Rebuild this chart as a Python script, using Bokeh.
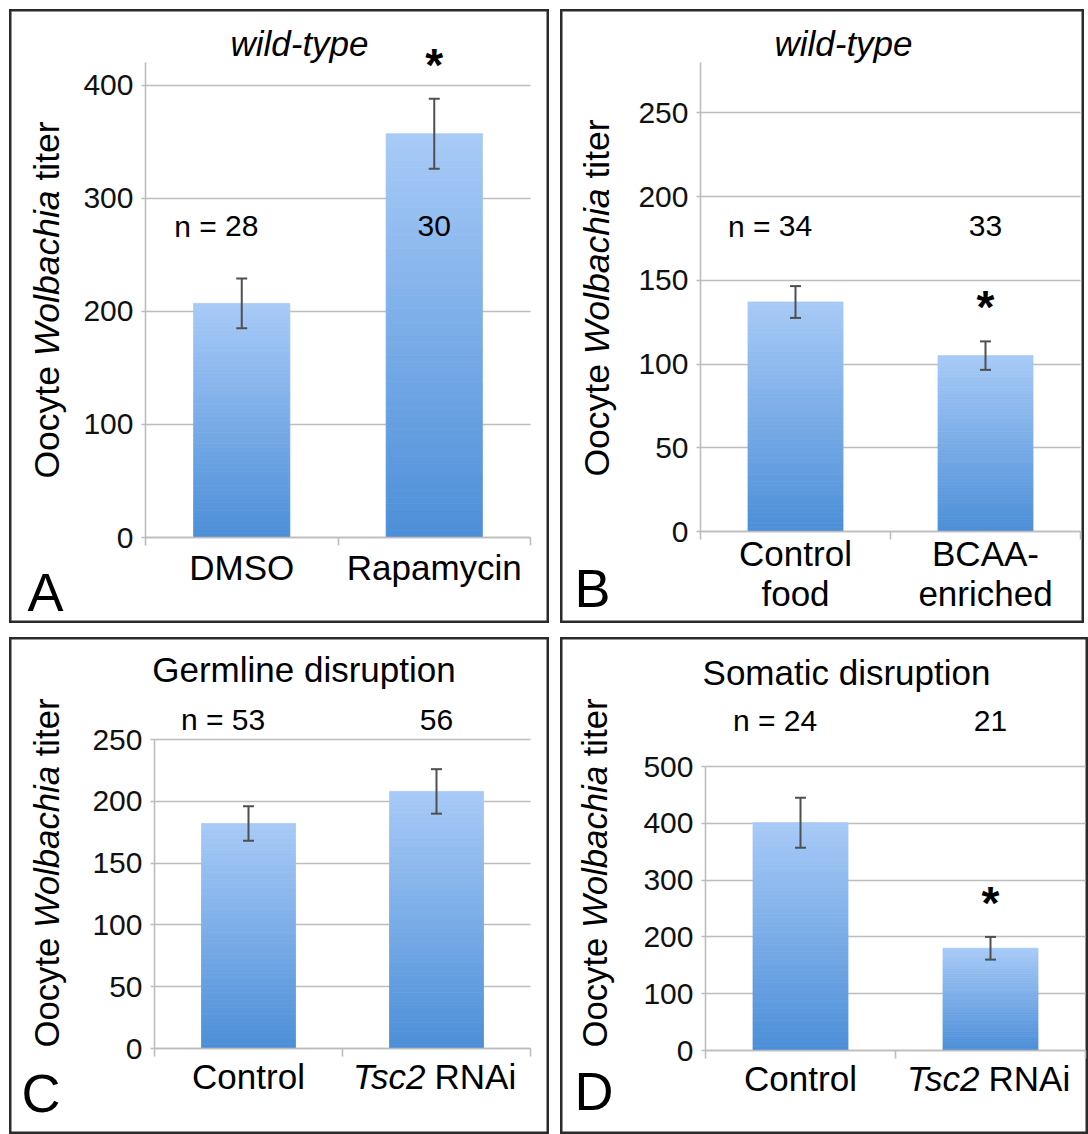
import numpy as np
from bokeh.plotting import figure
from bokeh.models import (Range1d, FixedTicker, Label, Whisker, ColumnDataSource, TeeHead,
                          LinearAxis, Grid)
from bokeh.layouts import row, column
from bokeh.embed import file_html
from bokeh.resources import INLINE

# ---------------- data ----------------
a_title = "wild-type"
a_categories = ["DMSO", "Rapamycin"]
a_means = [207, 357]
a_errors = [22, 31]
a_n = [28, 30]
a_significant = [False, True]
a_yticks = [0, 100, 200, 300, 400]

b_title = "wild-type"
b_categories = ["Control food", "BCAA-enriched"]
b_means = [137, 105]
b_errors = [9.5, 8.5]
b_n = [34, 33]
b_significant = [False, True]
b_yticks = [0, 50, 100, 150, 200, 250]

c_title = "Germline disruption"
c_categories = ["Control", "Tsc2 RNAi"]
c_means = [182, 208]
c_errors = [14, 18]
c_n = [53, 56]
c_significant = [False, False]
c_yticks = [0, 50, 100, 150, 200, 250]

d_title = "Somatic disruption"
d_categories = ["Control", "Tsc2 RNAi"]
d_means = [401, 180]
d_errors = [44, 20]
d_n = [24, 21]
d_significant = [False, True]
d_yticks = [0, 100, 200, 300, 400, 500]

y_label_words = ["Oocyte", "Wolbachia", "titer"]
italic_words = {"wild-type", "Wolbachia", "Tsc2"}
line_breaks = {"Control food": ["Control", "food"], "BCAA-enriched": ["BCAA-", "enriched"]}

# ---------------- styling ----------------
FONT = "Liberation Sans"
GRID = "#bdbdbd"
ERR = "#4f4f4f"
BAR_BOTTOM = (76, 143, 216)
BAR_TOP = (168, 202, 247)
BASE_FIX = 0.38   # em shift so that the anchor is the alphabetic baseline

W1000 = {" ": 278, "-": 333, "*": 389, "=": 584, "A": 667, "B": 667, "C": 722, "D": 722,
         "G": 778, "M": 833, "N": 722, "O": 778, "R": 722, "S": 667, "T": 611, "W": 944,
         "a": 556, "b": 556, "c": 500, "d": 556, "e": 556, "f": 278, "h": 556, "i": 222,
         "l": 222, "m": 833, "n": 556, "o": 556, "p": 556, "r": 333, "s": 500, "t": 278,
         "u": 556, "y": 500}


def text_w(s, size):
    return sum(W1000.get(ch, 556) for ch in s) / 1000.0 * size


# pixel layout of each panel (canvas coordinates, origin top-left)
spec_a = dict(W=540, H=614, L=136, R=19, T=53, B=86, y_end=420, title_xy=(290, 47),
              ylab=(51, 469, 35.5), cat_base=571, n_base=228, letter="A", letter_xy=(18, 603))
spec_b = dict(W=524, H=614, L=140, R=4, T=53, B=92, y_end=280, title_xy=(283, 47),
              ylab=(50, 467, 35.5), cat_base=557, n_base=228, letter="B", letter_xy=(14, 599))
spec_c = dict(W=540, H=497, L=145, R=19, T=102, B=86, y_end=250, title_xy=(294.5, 45),
              ylab=(51, 410, 34.7), cat_base=452, n_base=93.5, letter="C", letter_xy=(12, 476))
spec_d = dict(W=528, H=497, L=145, R=3, T=129, B=84, y_end=500, title_xy=(286, 48),
              ylab=(48, 410, 34.7), cat_base=454, n_base=94.5, letter="D", letter_xy=(14, 474))


def lbl(p, spec, cx, cy, text, size, style="normal", align="left", rotated=False):
    if rotated:
        x, y, angle = cx - BASE_FIX * size, spec["H"] - cy, np.pi / 2
    else:
        x, y, angle = cx, spec["H"] - cy + BASE_FIX * size, 0.0
    p.add_layout(Label(x=x, y=y, x_units="screen", y_units="screen", text=text,
                       text_font=FONT, text_font_size=f"{size}px", text_font_style=style,
                       text_align=align, text_baseline="alphabetic", angle=angle,
                       text_color="#000000"))


def make_panel(title, cats, means, errs, ns, sig, yticks, spec):
    W, H, L, R, T, B = (spec[k] for k in ("W", "H", "L", "R", "T", "B"))
    n = len(cats)
    y_end = spec["y_end"]
    kx = (W - L - R) / n          # px per category
    ky = (H - T - B) / y_end      # px per unit
    p = figure(width=W, height=H,
               x_range=Range1d(-L / kx, n + R / kx),
               y_range=Range1d(-B / ky, y_end + T / ky),
               x_axis_location=None, y_axis_location=None,
               output_backend="svg", toolbar_location=None,
               min_border_left=0, min_border_right=0, min_border_top=0, min_border_bottom=0)
    p.background_fill_color = "white"
    p.border_fill_color = "white"
    p.outline_line_color = "#2b2b2b"
    p.outline_line_width = 4
    p.xgrid.visible = False
    p.ygrid.visible = False

    yticker = FixedTicker(ticks=yticks)
    # horizontal grid lines
    grid = Grid(dimension=1, ticker=yticker, grid_line_color=GRID, grid_line_width=1.6,
                bounds=(0, y_end))
    try:
        grid.cross_bounds = (0, n)
        p.add_layout(grid)
    except AttributeError:
        p.segment(x0=[0] * len(yticks), x1=[n] * len(yticks), y0=yticks, y1=yticks,
                  line_color=GRID, line_width=1.6, level="underlay")

    # axes drawn at fixed data locations
    yaxis = LinearAxis(fixed_location=0, bounds=(0, y_end), ticker=yticker,
                       major_label_text_font=FONT, major_label_text_font_size="30px",
                       major_label_text_color="#111111", major_tick_out=4, major_tick_in=0,
                       major_tick_line_color=GRID, major_tick_line_width=1.6,
                       minor_tick_line_color=None, axis_line_color=GRID, axis_line_width=1.6,
                       major_label_standoff=8)
    p.add_layout(yaxis, "left")
    xaxis = LinearAxis(fixed_location=0, bounds=(0, n),
                       ticker=FixedTicker(ticks=[], minor_ticks=list(range(n + 1))),
                       minor_tick_out=8, minor_tick_in=0, minor_tick_line_color=GRID,
                       minor_tick_line_width=1.6, major_tick_line_color=None,
                       axis_line_color=GRID, axis_line_width=1.6)
    p.add_layout(xaxis, "below")

    xs = [i + 0.5 for i in range(n)]

    # gradient bars
    N = 60
    left, right, bottom, top, colors = [], [], [], [], []
    for x, m in zip(xs, means):
        for k in range(N):
            t = (k + 0.5) / N
            c = tuple(int(round(BAR_BOTTOM[j] + (BAR_TOP[j] - BAR_BOTTOM[j]) * t)) for j in range(3))
            left.append(x - 0.25)
            right.append(x + 0.25)
            bottom.append(m * k / N)
            top.append(m * (k + 1) / N)
            colors.append("#%02x%02x%02x" % c)
    p.quad(left=left, right=right, bottom=bottom, top=top, fill_color=colors,
           line_color=colors, line_width=0.8)

    # error bars
    src = ColumnDataSource(dict(x=xs, upper=[m + e for m, e in zip(means, errs)],
                                lower=[m - e for m, e in zip(means, errs)]))
    w = Whisker(source=src, base="x", upper="upper", lower="lower", dimension="height",
                line_color=ERR, line_width=2, level="overlay",
                upper_head=TeeHead(size=11, line_color=ERR, line_width=2),
                lower_head=TeeHead(size=11, line_color=ERR, line_width=2))
    p.add_layout(w)

    # significance stars
    for x, m, e, s in zip(xs, means, errs, sig):
        if s:
            p.add_layout(Label(x=x, y=m + e, x_units="data", y_units="data", y_offset=34,
                               text="*", text_font=FONT, text_font_size="46px",
                               text_font_style="bold", text_align="center",
                               text_baseline="alphabetic", text_color="#000000"))

    # title
    tx, ty = spec["title_xy"]
    lbl(p, spec, tx, ty, title, 35, style="italic" if title in italic_words else "normal", align="center")

    # y label (rotated, mixed italic)
    bx, by, fs = spec["ylab"]
    off = 0.0
    for word in y_label_words:
        lbl(p, spec, bx, by - off, word, fs,
            style="italic" if word in italic_words else "normal", align="left", rotated=True)
        off += text_w(word + " ", fs)

    # n labels
    n_sy = H - spec["n_base"] + BASE_FIX * 30
    for i, (x, nn) in enumerate(zip(xs, ns)):
        num = str(nn)
        p.add_layout(Label(x=x, y=n_sy, x_units="data", y_units="screen", text=num,
                           text_font=FONT, text_font_size="30px", text_align="center",
                           text_baseline="alphabetic", text_color="#000000"))
        if i == 0:
            p.add_layout(Label(x=x, y=n_sy, x_units="data", y_units="screen", text="n =",
                               x_offset=-(text_w(num, 30) / 2 + text_w(" ", 30)),
                               text_font=FONT, text_font_size="30px", text_align="right",
                               text_baseline="alphabetic", text_color="#000000"))

    # category labels
    for x, cat in zip(xs, cats):
        lines = line_breaks.get(cat, [cat])
        for li, line in enumerate(lines):
            sy = H - (spec["cat_base"] + 40 * li) + BASE_FIX * 35
            total = text_w(line, 35)
            cur = -total / 2
            for word in line.split(" "):
                p.add_layout(Label(x=x, y=sy, x_units="data", y_units="screen", text=word,
                                   x_offset=cur, text_font=FONT, text_font_size="35px",
                                   text_font_style="italic" if word in italic_words else "normal",
                                   text_align="left", text_baseline="alphabetic",
                                   text_color="#000000"))
                cur += text_w(word, 35) + 0.6 * text_w(" ", 35)

    # panel letter
    lx, ly = spec["letter_xy"]
    lbl(p, spec, lx, ly, spec["letter"], 54)
    return p


pA = make_panel(a_title, a_categories, a_means, a_errors, a_n, a_significant, a_yticks, spec_a)
pB = make_panel(b_title, b_categories, b_means, b_errors, b_n, b_significant, b_yticks, spec_b)
pC = make_panel(c_title, c_categories, c_means, c_errors, c_n, c_significant, c_yticks, spec_c)
pD = make_panel(d_title, d_categories, d_means, d_errors, d_n, d_significant, d_yticks, spec_d)

layout = column(row(pA, pB, spacing=11), row(pC, pD, spacing=11), spacing=14, margin=(9, 0, 0, 9))

open("out.html", "w").write(file_html(layout, INLINE))
